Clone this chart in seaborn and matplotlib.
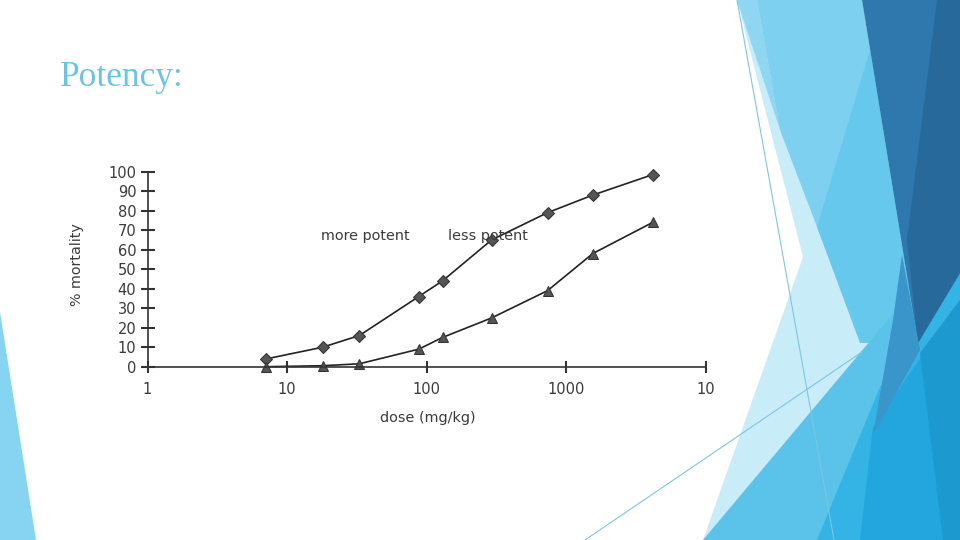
import matplotlib
matplotlib.use("Agg")
import matplotlib.pyplot as plt
from matplotlib.patches import Polygon
from matplotlib.lines import Line2D
import seaborn as sns
import pandas as pd

# ---- data ----
dose = [7.1, 18, 33, 88, 130, 292, 736, 1550, 4170]
more_potent = [4, 10, 16, 36, 44, 65, 79, 88, 98.5]
less_potent = [0, 0.5, 1.5, 9, 15, 25, 39, 58, 74]
x_ticks = [1, 10, 100, 1000, 10000]
x_tick_labels = ["1", "10", "100", "1000", "10"]
y_ticks = list(range(0, 101, 10))
title = "Potency:"

df = pd.concat([
    pd.DataFrame({"dose": dose, "mortality": more_potent, "series": "more potent"}),
    pd.DataFrame({"dose": dose, "mortality": less_potent, "series": "less potent"}),
])

sns.set_theme(style="white")
plt.rcParams["font.family"] = ["DejaVu Sans"]

W, H = 960, 540
fig = plt.figure(figsize=(9.6, 5.4), dpi=100)
fig.patch.set_facecolor("white")

# ---- slide decoration (pixel coordinates) ----
bg = fig.add_axes([0, 0, 1, 1], zorder=-5)
bg.set_xlim(0, W)
bg.set_ylim(H, 0)
bg.axis("off")

def poly(pts, color):
    bg.add_patch(Polygon(pts, closed=True, facecolor=color, edgecolor="none"))

poly([(737, 0), (803, 257), (703, 540), (960, 540), (960, 0)], "#c9ecf9")
poly([(737, 0), (757, 0), (780, 130)], "#8fd6f2")
poly([(757, 0), (862, 0), (918, 343), (863, 343), (817, 227), (780, 130)], "#7dd0f0")
poly([(870, 50), (817, 227), (860, 343), (918, 343)], "#66c8ec")
poly([(703, 540), (860, 353), (960, 235), (960, 540)], "#5bc3ea")
poly([(817, 540), (880, 387), (960, 262), (960, 540)], "#33b4e4")
poly([(860, 540), (873, 427), (960, 300), (960, 540)], "#22a6dd")
poly([(943, 540), (920, 353), (960, 300), (960, 540)], "#1c9acf")
poly([(862, 0), (960, 0), (960, 273), (918, 343)], "#2e78ad")
poly([(937, 0), (960, 0), (960, 273), (918, 343), (907, 240)], "#28699b")
poly([(902, 255), (920, 350), (873, 435), (893, 320)], "#3a95cb")
poly([(0, 312), (36, 540), (0, 540)], "#87d4f2")
bg.add_line(Line2D([737, 834], [0, 540], color="#7cc6e0", lw=0.8))
bg.add_line(Line2D([585, 862], [540, 352], color="#7cc6e0", lw=0.8))

bg.text(60, 86, title, fontsize=25.5, color="#6cc4df",
        family=["Liberation Serif", "DejaVu Serif"], va="baseline", ha="left")

# ---- chart ----
x0, x1 = 147.5, 705.7
y0, y1 = 366.7, 171.7
ax = fig.add_axes([x0 / W, 1 - y0 / H, (x1 - x0) / W, (y0 - y1) / H])
ax.patch.set_alpha(0)

sns.lineplot(data=df, x="dose", y="mortality", hue="series", style="series",
             markers={"more potent": "D", "less potent": "^"}, dashes=False,
             palette={"more potent": "#222222", "less potent": "#222222"},
             markersize=6.5, markeredgecolor="#333333", linewidth=1.2,
             legend=False, ax=ax, clip_on=False)
for ln in ax.lines:
    ln.set_markerfacecolor("#555555")
    ln.set_clip_on(False)

ax.set_xscale("log")
ax.set_xlim(1, 10000)
ax.set_ylim(0, 100)
ax.set_xticks(x_ticks)
ax.set_xticklabels(x_tick_labels)
ax.minorticks_off()
ax.set_yticks(y_ticks)
ax.set_yticklabels([str(v) for v in y_ticks])
ax.set_xlabel("")
ax.set_ylabel("")

for s in ["top", "right"]:
    ax.spines[s].set_visible(False)
for s in ["left", "bottom"]:
    ax.spines[s].set_color("#333333")
    ax.spines[s].set_linewidth(1.2)

ax.tick_params(axis="y", direction="inout", length=10, width=1.5, color="#333333",
               labelsize=10.5, labelcolor="#3a3a3a", pad=3, left=True)
ax.tick_params(axis="x", direction="inout", length=8, width=1.5, color="#333333",
               labelsize=10.5, labelcolor="#3a3a3a", pad=7, bottom=True)

fig.text(365 / W, 1 - 236 / H, "more potent", fontsize=10.4,
         color="#3a3a3a", ha="center", va="center")
fig.text(488 / W, 1 - 236 / H, "less potent", fontsize=10.4,
         color="#3a3a3a", ha="center", va="center")

fig.text(428 / W, 1 - 418 / H, "dose (mg/kg)", fontsize=10.4, color="#3a3a3a",
         ha="center", va="center")
fig.text(77 / W, 1 - 265 / H, "% mortality", fontsize=10.3, color="#3a3a3a",
         ha="center", va="center", rotation=90)

fig.savefig("out.png", dpi=100)
